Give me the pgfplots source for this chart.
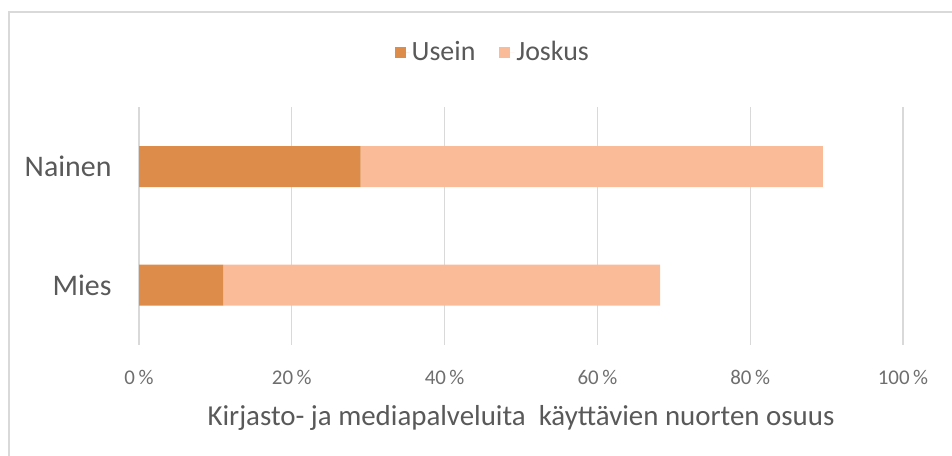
\documentclass[border=0pt]{standalone}
\usepackage{pgfplots}
\pgfplotsset{compat=1.18}
\usepackage{fontspec}
\setmainfont{Carlito}
\definecolor{usein}{RGB}{221,140,73}
\definecolor{joskus}{RGB}{250,188,152}
\definecolor{txt}{RGB}{89,89,89}
\definecolor{ticktxt}{RGB}{110,110,110}
\definecolor{gridc}{RGB}{217,217,217}
\begin{document}
\begin{tikzpicture}
\path[use as bounding box] (0,0) rectangle (952bp,456bp);
\draw[gridc, line width=1.2bp] (9bp,-20bp) -- (9bp,444bp) -- (980bp,444bp);
\begin{axis}[
  at={(139bp,111.5bp)}, anchor=south west,
  scale only axis, width=764bp, height=237bp,
  xbar stacked, bar width=41bp,
  xmin=0, xmax=100, ymin=-0.5, ymax=1.5,
  xtick={0,20,40,60,80,100},
  ytick={0,1}, yticklabels={Mies,Nainen},
  xmajorgrids, grid style={gridc, line width=1.2bp},
  axis line style={draw=none},
  major tick length=0pt,
  /pgf/number format/assume math mode=true,
  xticklabel={\pgfmathprintnumber{\tick}\,\%},
  xticklabel style={font=\fontsize{21}{25}\selectfont, text=ticktxt, yshift=-22bp},
  yticklabel style={font=\fontsize{30}{36}\selectfont, text=txt, xshift=-24bp},
  xlabel={Kirjasto- ja mediapalveluita \ käyttävien nuorten osuus},
  xlabel style={font=\fontsize{29}{35}\selectfont, text=txt, yshift=-14bp},
  legend columns=2,
  legend style={draw=none, at={(0.463,1.234)}, anchor=center,
    font=\fontsize{28}{34}\selectfont, text=txt,
    /tikz/every even column/.append style={column sep=22bp}},
  legend image code/.code={\fill[#1] (0bp,-5.5bp) rectangle (11bp,5.5bp); \path (0bp,0bp) -- (15bp,0bp);},
]
\addplot[fill=usein, draw=none] coordinates {(11,0) (29,1)};
\addplot[fill=joskus, draw=none] coordinates {(57.2,0) (60.5,1)};
\legend{Usein,Joskus}
\end{axis}
\end{tikzpicture}
\end{document}
